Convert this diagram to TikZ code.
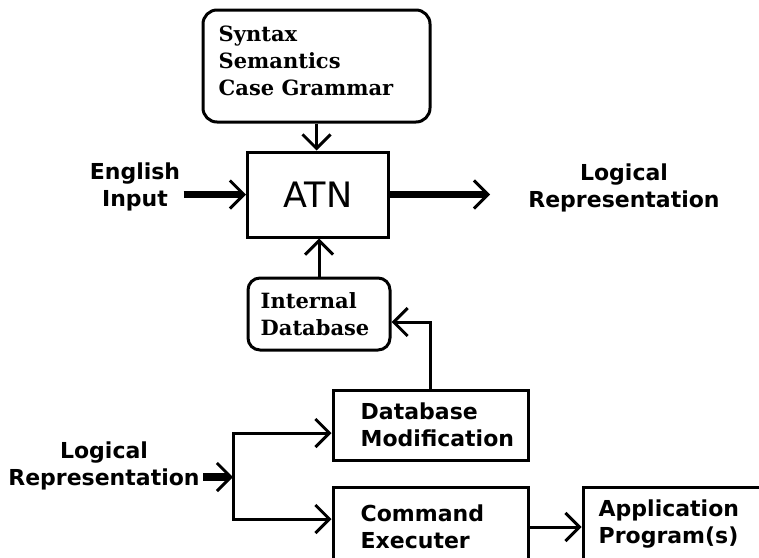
\documentclass[tikz,border=0pt]{standalone}
\usepackage{fontspec}
\setmainfont{DejaVu Sans}
\newfontfamily\slabfont{DejaVu Serif}
\usetikzlibrary{arrows.meta, positioning}
\newcommand{\chfont}{\fontsize{22}{27}\selectfont\bfseries}
\newcommand{\sbfont}{\slabfont\fontsize{21}{27}\selectfont\bfseries}
\tikzset{
  blk/.style={draw, line width=3pt, inner sep=0pt},
  rblk/.style={blk, rounded corners=14pt},
  txt/.style={font=\chfont, align=left, anchor=west, inner sep=0pt},
  stxt/.style={font=\sbfont, align=left, anchor=west, inner sep=0pt},
  lbl/.style={font=\chfont, align=center},
  arr/.style={line width=3pt, -{Straight Barb[length=14pt, width=28pt, line width'=3pt]}},
  fatarr/.style={arr, line width=7.5pt},
}

\begin{document}
\begin{tikzpicture}[x=1pt, y=-1pt]
  \useasboundingbox (0,0) rectangle (759,557);
  \clip (0,0) rectangle (759,557);

  % knowledge sources and the parser
  \node[rblk, minimum width=227pt, minimum height=112pt] (rules) at (316.5,66) {};
  \node[stxt] (rulestxt) at ([xshift=17pt, yshift=5pt]rules.west) {Syntax\\Semantics\\Case Grammar};
  \node[blk, minimum width=141pt, minimum height=85pt, font=\fontsize{35}{40}\selectfont] (atn) at (318,194.5) {ATN};
  \node[rblk, rounded corners=12pt, minimum width=142pt, minimum height=72pt] (intdb) at (319,314) {};
  \node[stxt] (intdbtxt) at ([xshift=14pt]intdb.west) {Internal\\Database};

  % back end
  \node[blk, minimum width=195pt, minimum height=70pt] (dbmod) at (430.5,425) {};
  \node[txt] (dbmodtxt) at ([xshift=29pt]dbmod.west) {Database\\Modification};
  \node[blk, minimum width=195pt, minimum height=80pt] (cmd) at (430.5,527) {};
  \node[txt] (cmdtxt) at ([xshift=29pt]cmd.west) {Command\\Executer};
  \node[blk, minimum width=207pt, minimum height=80pt] (app) at (686.5,527) {};
  \node[txt] (apptxt) at ([xshift=17pt, yshift=3pt]app.west) {Application\\Program(s)};

  % free labels
  \node[lbl] (engin) at (135,187) {English\\Input};
  \node[lbl] (logout) at (624,188) {Logical\\Representation};
  \node[lbl] (login) at (104,466) {Logical\\Representation};
  \coordinate (outend) at (490,194.5);
  \coordinate (split) at (233,477);

  % connectors
  \draw[arr] (rules.south) -- (rules.south |- atn.north);
  \draw[fatarr] (engin.east |- atn.west) -- (atn.west);
  \draw[fatarr] (atn.east) -- (outend);
  \draw[arr] (intdb.north) -- (intdb.north |- atn.south);
  \draw[arr] (dbmod.north) |- ([yshift=-8pt]intdb.east);
  \draw[fatarr] (login.east |- split) -- (split);
  \draw[arr] (split) |- ([yshift=-8pt]dbmod.west);
  \draw[arr] (split) |- ([yshift=8pt]cmd.west);
  \draw[arr] (cmd.east) -- (app.west);
\end{tikzpicture}
\end{document}
